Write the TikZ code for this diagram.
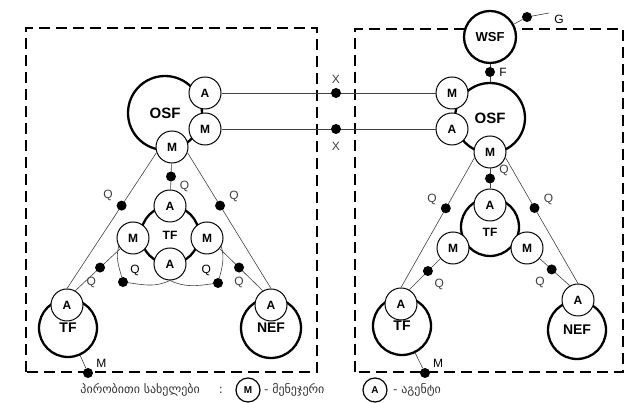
\documentclass[tikz,border=0pt]{standalone}
\usepackage{fontspec}
\setmainfont{Liberation Sans}
\newfontfamily\geofont{DejaVu Sans}
\usepackage{tikz}

\begin{document}
\begin{tikzpicture}[x = 1pt, y = 1pt,
  ag/.style = {circle, draw, fill = white, line width = 1pt, minimum size = 32pt, inner sep = 0pt, font = \fontsize{12}{12}\selectfont\bfseries},
  fa/.style = {circle, draw, fill = white, line width = 2.3pt, inner sep = 0pt, font = \fontsize{14}{14}\selectfont\bfseries},
  dot/.style = {circle, fill = black, minimum size = 10pt, inner sep = 0pt},
  lab/.style = {inner sep = 1pt, font = \fontsize{12}{12}\selectfont},
  leg/.style = {inner sep = 0pt, text = black!80, font = \geofont\fontsize{12}{12}\selectfont},
  link/.style = {line width = 0.6pt, black!75},
  zone/.style = {line width = 1.3pt, dash pattern = on 11pt off 6pt},
  label distance = 3pt]
\useasboundingbox (0, 0) rectangle (630, 403);
\draw[zone] (26, 31) rectangle (317, 375);
\draw[zone] (355, 31) rectangle (623, 374);

\node[fa, minimum size = 74pt, font = \fontsize{15}{15}\selectfont\bfseries] (osfL) at (165, 290) {OSF};
\node[fa, minimum size = 58pt, font = \fontsize{12}{12}\selectfont\bfseries] (tfI) at (170, 168) {TF};
\node[fa, minimum size = 58pt] (tfL) at (68, 75) {TF};
\node[fa, minimum size = 60pt] (nef) at (271, 75) {NEF};
\node[ag] (aO) at (205, 310) {A};
\node[ag] (mO) at (205, 274) {M};
\node[ag] (mT) at (172, 256) {M};
\node[ag] (aT) at (170, 197) {A};
\node[ag] (mL) at (133, 165) {M};
\node[ag] (mR) at (207, 165) {M};
\node[ag] (aB) at (170, 139) {A};
\node[ag] (aTL) at (67, 98) {A};
\node[ag] (aN) at (271, 98) {A};

\node[fa, minimum size = 52pt, font = \fontsize{13}{13}\selectfont\bfseries] (wsf) at (490, 366) {WSF};
\node[fa, minimum size = 70pt, font = \fontsize{15}{15}\selectfont\bfseries] (osfR) at (490, 285) {OSF};
\node[fa, minimum size = 58pt, text height = 19pt, text depth = 0pt, font = \fontsize{12}{12}\selectfont\bfseries] (tfI2) at (490, 176) {TF};
\node[fa, minimum size = 58pt] (tfL2) at (402, 77) {TF};
\node[fa, minimum size = 58pt] (nef2) at (577, 73) {NEF};
\node[ag] (mO2) at (452, 310) {M};
\node[ag] (aO2) at (452, 274) {A};
\node[ag] (mT2) at (490, 251) {M};
\node[ag] (aT2) at (490, 198) {A};
\node[ag] (mL2) at (453, 155) {M};
\node[ag] (mR2) at (527, 155) {M};
\node[ag] (aTL2) at (401, 99) {A};
\node[ag] (aN2) at (578, 103) {A};

\draw[link] (aO) -- (mO2) node[dot, pos = .535, label = {[lab]90:X}] (xA) {};
\draw[link] (mO) -- (aO2) node[dot, pos = .535, label = {[lab, label distance = 7pt]270:X}] (xM) {};

\draw[link] (mT) -- (aT) node[dot, midway, label = {[lab]-23:Q}] (qT) {};
\draw[link] (mT.200) -- (aTL.north) node[dot, pos = .39, label = {[lab]155:Q}] (qLo) {};
\draw[link] (mT.-20) -- (aN.north) node[dot, pos = .39, label = {[lab]16:Q}] (qRo) {};
\draw[link] (mL.220) -- (aTL.60) node[dot, pos = .45, label = {[lab]251:Q}] (qLi) {};
\draw[link] (mR.-40) -- (aN.120) node[dot, pos = .45, label = {[lab]270:Q}] (qRi) {};
\node[dot, label = {[lab]40:Q}] (qLc) at (123, 121) {};
\node[dot, label = {[lab]135:Q}] (qRc) at (218, 120) {};
\draw[link] (mL.210) to[out = 255, in = 105] (qLc);
\draw[link] (qLc) to[out = -8, in = 205] (aB.south);
\draw[link] (mR.-30) to[out = -75, in = 75] (qRc);
\draw[link] (qRc) to[out = 188, in = -25] (aB.south);
\node[dot, label = {[lab]29:M}] (mdL) at (88, 30) {};
\draw[link] (tfL) -- (mdL);

\node[dot, label = {[lab]0:F}] (fd) at (490, 331) {};
\draw[link] (wsf) -- (fd);
\draw[link] (fd) -- (osfR);
\node[dot] (gd) at (527, 386) {};
\coordinate (gEnd) at (549, 390);
\draw[link] (wsf) -- (gd) -- (gEnd);
\node[lab] (gLab) at (559, 384) {G};

\draw[link] (mT2) -- (aT2) node[dot, midway, label = {[lab]10:Q}] (qT2) {};
\draw[link] (mT2.200) -- (aTL2.north) node[dot, pos = .39, label = {[lab]162:Q}] (qLo2) {};
\draw[link] (mT2.-20) -- (aN2.north) node[dot, pos = .4, label = {[lab]16:Q}] (qRo2) {};
\draw[link] (mL2.220) -- (aTL2.60) node[dot, pos = .4, label = {[lab]-50:Q}] (qLi2) {};
\draw[link] (mR2.-40) -- (aN2.120) node[dot, pos = .4, label = {[lab]228:Q}] (qRi2) {};
\node[dot, label = {[lab]31:M}] (mdR) at (425, 30) {};
\draw[link] (tfL2) -- (mdR);

\node[leg, anchor = east] (lgName) at (200, 13) {პირობითი სახელები};
\node[leg] (lgColon) at (221, 13) {:};
\node[ag, minimum size = 24pt, line width = 1.2pt, font = \fontsize{10}{10}\selectfont\bfseries] (lgM) at (248, 13) {M};
\node[leg, anchor = west] (lgMtxt) at (264, 13) {- მენეჯერი};
\node[ag, minimum size = 24pt, line width = 1.2pt, font = \fontsize{10}{10}\selectfont\bfseries] (lgA) at (375, 13) {A};
\node[leg, anchor = west] (lgAtxt) at (393, 13) {- აგენტი};
\end{tikzpicture}
\end{document}
